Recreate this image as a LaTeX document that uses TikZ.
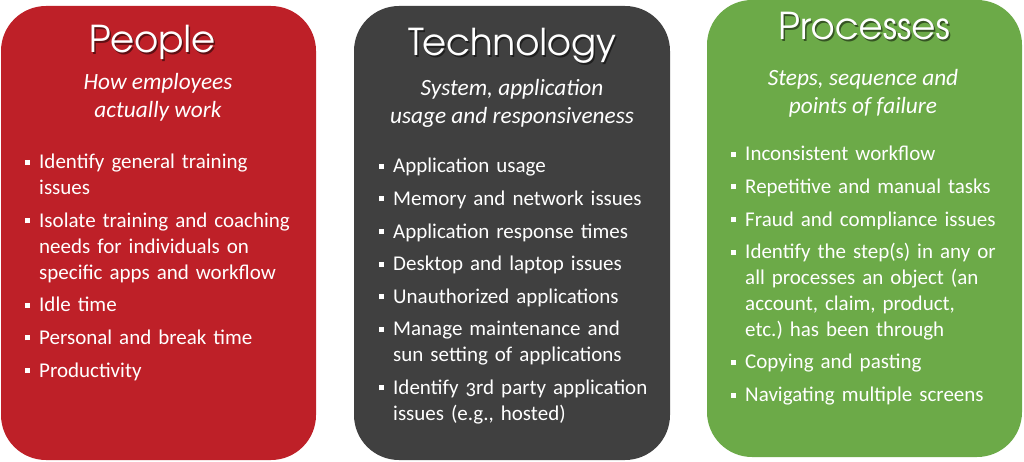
\documentclass[tikz,border=0pt]{standalone}
\usepackage[T1]{fontenc}
\usepackage{fontspec}
\setmainfont{Carlito}
\usetikzlibrary{positioning}

\definecolor{peoplered}{RGB}{190,32,40}
\definecolor{techgray}{RGB}{64,64,64}
\definecolor{procgreen}{RGB}{108,170,72}

\newcommand{\headfont}{\fontencoding{T1}\fontfamily{pag}\selectfont}
\newcommand{\pitem}{\par\leavevmode\setlength{\parskip}{6.7pt}%
  \llap{\rule[4pt]{5pt}{5pt}\hspace{9pt}}}
\newcommand{\oldnum}[1]{{\addfontfeature{Numbers=OldStyle}#1}}

\tikzset{
  card/.style={fill=#1, draw=none, rounded corners=45pt},
  heading/.style={font=\headfont\fontsize{37}{40}\selectfont, text=white,
    inner sep=0pt, anchor=base},
  headshadow/.style={heading, text=black, opacity=0.5},
  subhead/.style={font=\itshape\fontsize{23.3}{28}\selectfont, text=white,
    align=center, inner sep=0pt, anchor=base},
  points/.style={font=\fontsize{21}{25.9}\selectfont, text=white,
    text width=#1, align=left, inner sep=0pt, anchor=base west},
}

\begin{document}
\begin{tikzpicture}[x=1pt, y=-1pt]
\useasboundingbox (0,0) rectangle (1024,462);

% the three cards
\path[card=peoplered] (1,6) rectangle (316,460);
\path[card=techgray] (354,6) rectangle (670,460);
\path[card=procgreen] (707,0) rectangle (1022,457);

% People
\node[headshadow] (peopleshade) at (153.5,54.5) {People};
\node[heading] (peopletitle) at (152,53) {People};
\node[subhead] (peoplesub) at (158,118) {How employees\\actually work};
\node[points=262pt] (peoplelist) at (39,143) {%
\pitem Identify general training\\issues
\pitem Isolate training and coaching\\needs for individuals on\\specific apps and workflow
\pitem Idle time
\pitem Personal and break time
\pitem Productivity};

% Technology
\node[headshadow] (techshade) at (513.5,57.5) {Technology};
\node[heading] (techtitle) at (512,56) {Technology};
\node[subhead] (techsub) at (512,123.5) {System, application\\usage and responsiveness};
\node[points=262pt] (techlist) at (393,147) {%
\pitem Application usage
\pitem Memory and network issues
\pitem Application response times
\pitem Desktop and laptop issues
\pitem Unauthorized applications
\pitem Manage maintenance and\\sun setting of applications
\pitem Identify \oldnum{3}rd party application\\issues (e.g., hosted)};

% Processes
\node[headshadow] (procshade) at (865.5,41.5) {Processes};
\node[heading] (proctitle) at (864,40) {Processes};
\node[subhead] (procsub) at (863,114) {Steps, sequence and\\points of failure};
\node[points=262pt] (proclist) at (745,135) {%
\pitem Inconsistent workflow
\pitem Repetitive and manual tasks
\pitem Fraud and compliance issues
\pitem Identify the step(s) in any or\\all processes an object (an\\account, claim, product,\\etc.)\ has been through
\pitem Copying and pasting
\pitem Navigating multiple screens};
\end{tikzpicture}
\end{document}
